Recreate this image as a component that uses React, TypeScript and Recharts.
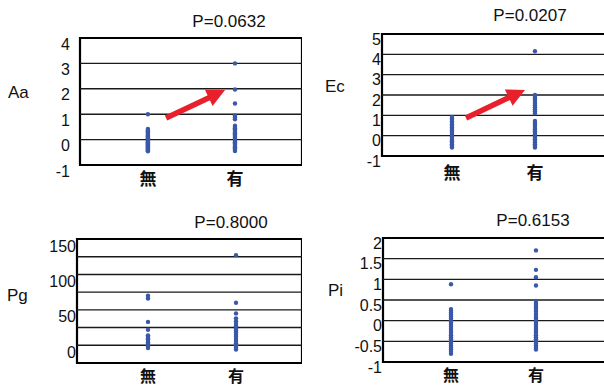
import React from "react";
import { ScatterChart, Scatter, XAxis, YAxis, ReferenceLine, ReferenceArea } from "recharts";

const groups = ["無", "有"];

// Aa
const aaNone = [1.0, 0.42, 0.38, 0.33, 0.3, 0.27, 0.22, 0.18, 0.15, 0.12, 0.08, 0.05, 0.02, 0, -0.03, -0.07, -0.1, -0.14, -0.18, -0.22, -0.26, -0.3, -0.34, -0.38, -0.42, -0.46];
const aaHave = [3.0, 1.97, 1.42, 0.95, 0.88, 0.8, 0.55, 0.5, 0.45, 0.4, 0.35, 0.3, 0.25, 0.2, 0.15, 0.1, 0.06, 0.02, -0.02, -0.06, -0.1, -0.15, -0.2, -0.25, -0.3, -0.35, -0.4, -0.45];
// Ec
const ecNone = [0.92, 0.85, 0.78, 0.7, 0.62, 0.55, 0.48, 0.4, 0.33, 0.25, 0.18, 0.1, 0.03, -0.05, -0.12, -0.2, -0.28, -0.35, -0.42, -0.5, -0.58];
const ecHave = [4.15, 2.0, 1.92, 1.83, 1.75, 1.66, 1.57, 1.48, 1.4, 1.3, 1.2, 1.1, 0.72, 0.64, 0.55, 0.47, 0.38, 0.3, 0.22, 0.14, 0.06, -0.02, -0.1, -0.18, -0.26, -0.34, -0.42, -0.5, -0.58];
// Pg
const pgNone = [70, 66, 33, 22, 14, 12, 10, 8, 6, 4, 2, 0, -2, -4];
const pgHave = [127, 60, 45, 38, 34, 30, 27, 24, 21, 18, 15, 12, 9, 6, 3, 0, -3, -6];
// Pi
const piNone = [0.88, 0.28, 0.24, 0.2, 0.15, 0.1, 0.05, 0, -0.05, -0.1, -0.15, -0.2, -0.25, -0.3, -0.35, -0.4, -0.45, -0.5, -0.55, -0.6, -0.65, -0.7, -0.75, -0.8];
const piHave = [1.7, 1.23, 1.05, 0.85, 0.48, 0.43, 0.38, 0.33, 0.28, 0.22, 0.16, 0.1, 0.05, 0, -0.05, -0.1, -0.15, -0.2, -0.25, -0.3, -0.35, -0.4, -0.45, -0.5, -0.55, -0.6, -0.65, -0.7];

const aaTicks = [-1, 0, 1, 2, 3, 4];
const ecTicks = [-1, 0, 1, 2, 3, 4, 5];
const pgTicks = [0, 50, 100, 150];
const piTicks = [-1, -0.5, 0, 0.5, 1, 1.5, 2];

const aaGrid = [0, 1, 2, 3];
const ecGrid = [0, 1, 2, 3, 4];
const pgGrid = [0, 25, 50, 75, 100, 125];
const piGrid = [-0.5, 0, 0.5, 1, 1.5];

// red arrows (start, tip) in data units
const aaArrow = [{ x: 1.208, y: 0.85 }, { x: 1.886, y: 1.95 }];
const ecArrow = [{ x: 1.169, y: 0.87 }, { x: 1.88, y: 2.25 }];

const NUM_FONT = "'Liberation Sans', Arial, sans-serif";
const JP_FONT = "'Noto Sans CJK JP', sans-serif";
const DOT = "#3a58a8";

const toPoints = (none: number[], have: number[]) => [
  ...none.map((y) => ({ x: 1, y })),
  ...have.map((y) => ({ x: 2, y })),
];

const Dot = (props: any) => <circle cx={props.cx} cy={props.cy} r={2.2} fill={DOT} />;

const Arrow = (props: any) => {
  const { x1, y1, x2, y2 } = props;
  const dx = x2 - x1;
  const dy = y2 - y1;
  const len = Math.sqrt(dx * dx + dy * dy);
  const ux = dx / len;
  const uy = dy / len;
  const L = 18;
  const W = 9;
  const bx = x2 - ux * L;
  const by = y2 - uy * L;
  return (
    <g>
      <line x1={x1} y1={y1} x2={bx + ux * 2} y2={by + uy * 2} stroke="#e8202c" strokeWidth={5.5} />
      <polygon
        points={`${x2},${y2} ${bx - uy * W},${by + ux * W} ${bx + uy * W},${by - ux * W}`}
        fill="#e8202c"
      />
    </g>
  );
};

interface PanelProps {
  left: number;
  top: number;
  width: number;
  height: number;
  plotTop: number;
  axisHeight: number;
  axisWidth: number;
  tickGap: number;
  yShift: number;
  xShift: number;
  catSize: number;
  xDomain: [number, number];
  yDomain: [number, number];
  ticks: number[];
  grid: number[];
  none: number[];
  have: number[];
  arrow?: { x: number; y: number }[];
}

const Panel = (p: PanelProps) => {
  const data = toPoints(p.none, p.have);
  return (
    <div style={{ position: "absolute", left: p.left, top: p.top }}>
      <ScatterChart
        width={p.width}
        height={p.height}
        margin={{ top: p.plotTop, right: 0, bottom: 0, left: 0 }}
      >
        <XAxis
          type="number"
          dataKey="x"
          domain={p.xDomain}
          ticks={[1, 2]}
          allowDataOverflow
          axisLine={false}
          tickLine={false}
          tickSize={0}
          tickMargin={0}
          height={p.axisHeight}
          tick={(t: any) => (
            <text
              x={t.x}
              y={t.y + p.xShift}
              textAnchor="middle"
              dominantBaseline="central"
              fontSize={p.catSize}
              fontWeight={700}
              fontFamily={JP_FONT}
              fill="#111"
            >
              {groups[t.payload.value - 1]}
            </text>
          )}
        />
        <YAxis
          type="number"
          dataKey="y"
          domain={p.yDomain}
          ticks={p.ticks}
          interval={0}
          allowDataOverflow
          axisLine={false}
          tickLine={false}
          tickSize={0}
          tickMargin={p.tickGap}
          width={p.axisWidth}
          tick={(t: any) => (
            <text
              x={t.x}
              y={t.y + p.yShift}
              textAnchor="end"
              dominantBaseline="central"
              fontSize={16}
              fontFamily={NUM_FONT}
              fill="#111"
            >
              {String(t.payload.value)}
            </text>
          )}
        />
        {p.grid.map((g) => (
          <ReferenceLine key={g} y={g} stroke="#1a1a1a" strokeWidth={1.4} />
        ))}
        <ReferenceArea
          x1={p.xDomain[0]}
          x2={p.xDomain[1]}
          y1={p.yDomain[0]}
          y2={p.yDomain[1]}
          fill="none"
          stroke="#000"
          strokeWidth={2.2}
          ifOverflow="visible"
        />
        <Scatter data={data} shape={Dot} isAnimationActive={false} />
        {p.arrow && (
          <ReferenceLine
            segment={p.arrow}
            ifOverflow="visible"
            shape={(lp: any) => <Arrow {...lp} />}
          />
        )}
      </ScatterChart>
    </div>
  );
};

const Label = ({ x, y, text, center }: { x: number; y: number; text: string; center?: boolean }) => (
  <div
    style={{
      position: "absolute",
      left: x,
      top: y,
      transform: center ? "translate(-50%, -50%)" : "translate(0, -50%)",
      fontFamily: NUM_FONT,
      fontSize: 17,
      color: "#111",
      whiteSpace: "nowrap",
      lineHeight: 1,
    }}
  >
    {text}
  </div>
);

export default function App() {
  return (
    <div
      style={{
        position: "absolute",
        left: 0,
        top: 0,
        width: 604,
        height: 387,
        overflow: "hidden",
        background: "#fff",
      }}
    >
      <Panel
        left={0} top={0} width={302} height={190}
        plotTop={38} axisHeight={25} axisWidth={80} tickGap={10} yShift={6} xShift={12} catSize={17}
        xDomain={[0.22, 2.77]} yDomain={[-1, 4]} ticks={aaTicks} grid={aaGrid}
        none={aaNone} have={aaHave} arrow={aaArrow}
      />
      <Panel
        left={300} top={0} width={306} height={190}
        plotTop={34} axisHeight={34} axisWidth={82} tickGap={1} yShift={5} xShift={15} catSize={17}
        xDomain={[0.157, 2.856]} yDomain={[-1, 5]} ticks={ecTicks} grid={ecGrid}
        none={ecNone} have={ecHave} arrow={ecArrow}
      />
      <Panel
        left={0} top={190} width={302} height={197}
        plotTop={49} axisHeight={24} axisWidth={77} tickGap={1} yShift={7} xShift={12} catSize={16}
        xDomain={[0.193, 2.75]} yDomain={[-25, 150]} ticks={pgTicks} grid={pgGrid}
        none={pgNone} have={pgHave}
      />
      <Panel
        left={300} top={190} width={306} height={197}
        plotTop={48} axisHeight={25} axisWidth={83} tickGap={1} yShift={5} xShift={12} catSize={16}
        xDomain={[0.2, 2.824]} yDomain={[-1, 2]} ticks={piTicks} grid={piGrid}
        none={piNone} have={piHave}
      />
      <Label x={229} y={21} text="P=0.0632" center />
      <Label x={530} y={15} text="P=0.0207" center />
      <Label x={231} y={222} text="P=0.8000" center />
      <Label x={533} y={220} text="P=0.6153" center />
      <Label x={8} y={92} text="Aa" />
      <Label x={325} y={86} text="Ec" />
      <Label x={7} y={295} text="Pg" />
      <Label x={328} y={290} text="Pi" />
    </div>
  );
}
